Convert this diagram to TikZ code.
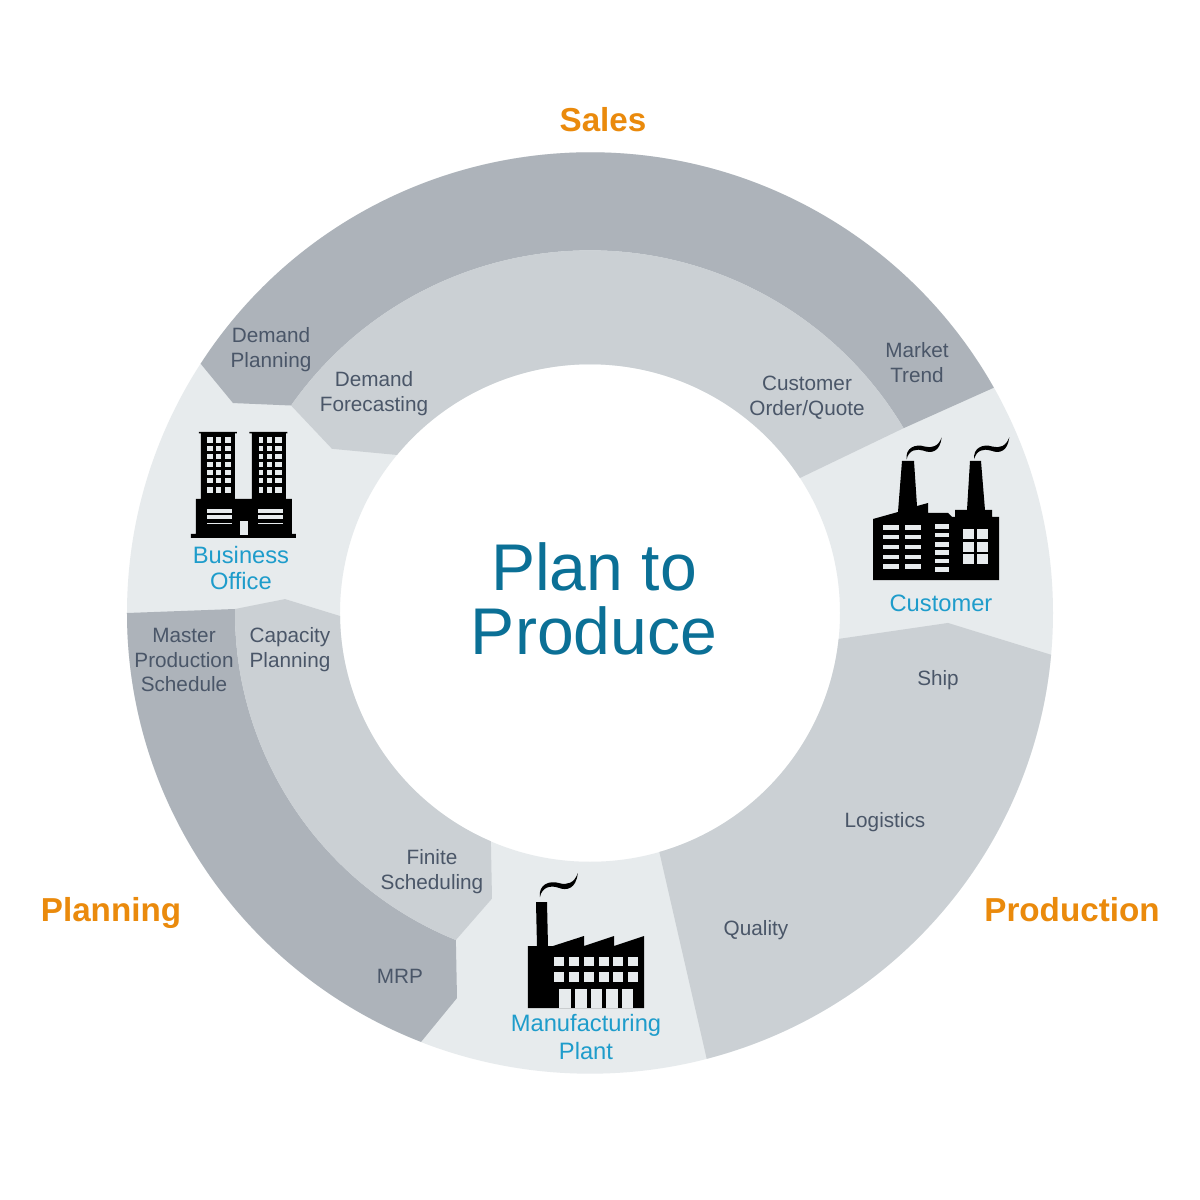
\documentclass[tikz,border=0pt]{standalone}
\usepackage{fontspec}
\setmainfont{Liberation Sans}
\definecolor{ringdark}{HTML}{ADB3BA}
\definecolor{ringmid}{HTML}{CBD0D4}
\definecolor{ringlight}{HTML}{E7EBED}
\definecolor{itemtext}{HTML}{4A5668}
\definecolor{sitetext}{HTML}{1E9CCB}
\definecolor{titletext}{HTML}{0B7096}
\definecolor{areatext}{HTML}{EA8A0C}
\tikzset{
  item/.style={text=itemtext, align=center, inner sep=0pt, font=\fontsize{11.8}{14.2}\selectfont},
  site/.style={text=sitetext, align=center, inner sep=0pt, font=\fontsize{13.5}{15}\selectfont},
  area/.style={text=areatext, inner sep=0pt, font=\fontsize{18.9}{22}\selectfont\bfseries},
  pane/.style={fill=ringlight},
  fumes/.pic={\fill[black] (0,0) .. controls (-1.7,11) and (8.3,16) .. (18.3,12.7)
    .. controls (25,11) and (31.7,12.7) .. (35,22)
    .. controls (33.3,7.7) and (25,5.3) .. (16.7,8.7)
    .. controls (10,11) and (1.7,9.3) .. (0,0) -- cycle;}
}
\begin{document}
\begin{tikzpicture}[x=0.02cm, y=0.02cm]
  \useasboundingbox (-590,-587) rectangle (610,613);
  \fill[white] (-590,-587) rectangle (610,613);
  \begin{scope}[yscale=0.995]
  \fill[ringlight, even odd rule] (0,0) circle (463) (0,0) circle (250);
  \fill[ringdark] (147.24:463) arc[start angle=147.24, end angle=29.28, radius=463]
    -- (30.64:364.5) arc[start angle=30.64, end angle=145.1, radius=364.5] -- (-357,211) -- cycle;
  \fill[ringmid] (145.1:364.5) arc[start angle=145.1, end angle=30.64, radius=364.5]
    -- (32.87:250) arc[start angle=32.87, end angle=140.55, radius=250] -- (-258,165) -- cycle;
  \fill[ringdark] (180:463) arc[start angle=180, end angle=248.6, radius=463]
    -- (-133,-387) -- (247.8:355) arc[start angle=247.8, end angle=179.35, radius=355] -- cycle;
  \fill[ringmid] (179.35:355) -- (-305,14) -- (-250,-3) arc[start angle=180.7, end angle=246.65, radius=250]
    -- (-98,-287) -- (247.8:355) arc[start angle=247.8, end angle=179.35, radius=355] -- cycle;
  \fill[ringmid] (-5.98:250) -- (358,-10) -- (-5.2:463) arc[start angle=-5.2, end angle=-75.4, radius=463]
    -- (-73.9:250) arc[start angle=-73.9, end angle=-5.98, radius=250] -- cycle;
  \end{scope}
  \begin{scope}[shift={(-590,613)}, yscale=-1]
    \fill[black] (199,432) rectangle (237,433.5) (201,432) rectangle (235,500)
      (249.5,432) rectangle (287.5,433.5) (252,432) rectangle (286,500)
      (196,499) rectangle (292,535) (191,534) rectangle (296,538);
    \foreach \y/\h in {437/6, 446/5, 454/5, 462/5, 470/5, 478/5, 487/6} {
      \foreach \x/\w in {207/6, 216/5, 225/6, 259/4, 267/5, 275/7}
        \fill[pane] (\x,\y) rectangle ++(\w,\h);
    }
    \foreach \y/\h in {509/4, 515/4, 523/1} {
      \foreach \x in {207, 258}
        \fill[pane] (\x,\y) rectangle ++(25,\h);
    }
    \fill[pane] (240,521) rectangle (248,535);
    \fill[black] (873,580) -- (873,519) -- (898,512) -- (902,461) -- (914,461) -- (917,506) -- (928,503)
      -- (928,513) -- (948,513) -- (952,517) -- (955,517) -- (955,510) -- (967,510) -- (970,461)
      -- (981,461) -- (985,510) -- (992,510) -- (992,517) -- (999,517) -- (999,580) -- cycle;
    \foreach \y/\h in {525/5, 535/4, 545/4, 555/4, 564/5} {
      \foreach \x in {883, 905}
        \fill[pane] (\x,\y) rectangle ++(16,\h);
    }
    \foreach \y/\h in {524/5, 533/4, 542/5, 550/5, 559/4, 567/5}
      \fill[pane] (935,\y) rectangle ++(14,\h);
    \foreach \y in {529, 542, 554} {
      \foreach \x in {963, 977}
        \fill[pane] (\x,\y) rectangle ++(11,10);
    }
    \pic at (906.7,459.3) {fumes};
    \pic at (974.3,459.3) {fumes};
    \fill[black] (528,1008) -- (528,946) -- (537,946) -- (536,902) -- (547,902) -- (548,946) -- (553,946)
      -- (584,936) -- (584,946) -- (614,936) -- (614,946) -- (644,936) -- (644,1008) -- cycle;
    \foreach \y/\h in {957/9, 972/10} {
      \foreach \x in {554, 569, 584, 599, 613, 628}
        \fill[pane] (\x,\y) rectangle ++(10,\h);
    }
    \foreach \x/\w in {559/12, 575/12, 591/11, 606/12, 622/11}
      \fill[pane] (\x,989) rectangle ++(\w,19);
    \pic[scale=1.08] at (540,897) {fumes};
    \node[area] (sales) at (603,120) {Sales};
    \node[area] (planning) at (111,913) {Planning};
    \node[area] (production) at (1072,910) {Production};
    \node[item] (demandplan) at (271,350) {Demand\\Planning};
    \node[item] (forecast) at (374,394) {Demand\\Forecasting};
    \node[item] (order) at (807,398) {Customer\\Order/Quote};
    \node[item] (market) at (917,363) {Market\\Trend};
    \node[item] (master) at (184,660) {Master\\Production\\Schedule};
    \node[item] (capacity) at (290,650) {Capacity\\Planning};
    \node[item] (finite) at (432,872) {Finite\\Scheduling};
    \node[item] (mrp) at (400,976) {MRP};
    \node[item] (ship) at (938,680) {Ship};
    \node[item] (logistics) at (885,822) {Logistics};
    \node[item] (quality) at (756,930) {Quality};
    \node[site] (office) at (241,568) {Business\\Office};
    \node[site] (customer) at (941,603) {Customer};
    \node[site, font=\fontsize{13.5}{16.4}\selectfont] (plant) at (586,1037) {Manufacturing\\Plant};
    \node[text=titletext, align=center, inner sep=0pt, font=\fontsize{37.6}{36.3}\selectfont] (title) at (594,599) {Plan to\\Produce};
  \end{scope}
\end{tikzpicture}
\end{document}
